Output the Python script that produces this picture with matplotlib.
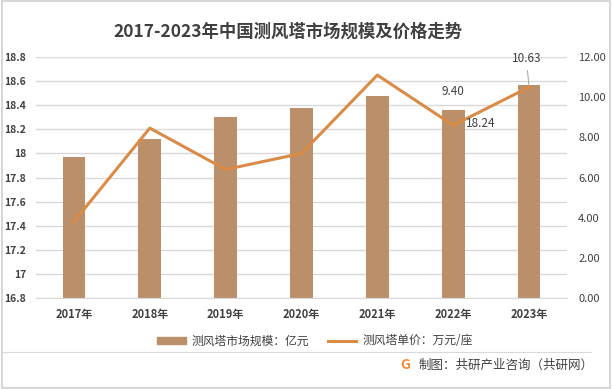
import matplotlib.pyplot as plt
from matplotlib.patches import Rectangle, Patch
from matplotlib.lines import Line2D

plt.rcParams['font.family'] = ['Noto Sans CJK SC', 'DejaVu Sans']

years = ['2017年', '2018年', '2019年', '2020年', '2021年', '2022年', '2023年']
market = [17.97, 18.12, 18.30, 18.38, 18.48, 18.36, 18.57]   # 亿元
price = [3.8, 8.46, 6.4, 7.2, 11.1, 8.6, 10.5]              # 万元/座
left_ticks = [16.8, 17, 17.2, 17.4, 17.6, 17.8, 18, 18.2, 18.4, 18.6, 18.8]
left_labels = ['16.8', '17', '17.2', '17.4', '17.6', '17.8', '18', '18.2', '18.4', '18.6', '18.8']
right_ticks = [0, 2, 4, 6, 8, 10, 12]

bar_color = '#BC8F6B'
line_color = '#D98B48'
text_color = '#404040'

fig = plt.figure(figsize=(6.12, 3.89), dpi=100)
fig.patches.append(Rectangle((0.003, 0.003), 0.994, 0.994, transform=fig.transFigure,
                             fill=False, edgecolor='#D0D0D0', linewidth=1.2))

ax = fig.add_axes([36 / 612, 91 / 389, 531 / 612, 241 / 389])
x = list(range(len(years)))
ax.bar(x, [m - 16.8 for m in market], bottom=16.8, width=0.3, color=bar_color, zorder=2)
ax.set_ylim(16.8, 18.8)
ax.set_xlim(-0.5, len(years) - 0.5)
ax.set_yticks(left_ticks)
ax.set_yticklabels(left_labels, fontsize=7.5, fontweight='bold', color=text_color)
ax.set_xticks(x)
ax.set_xticklabels(years, fontsize=8, fontweight='bold', color=text_color)
ax.tick_params(axis='x', length=0, pad=7)
ax.tick_params(axis='y', length=0, pad=7)
ax.grid(axis='y', color='#D9D9D9', linewidth=1, zorder=0)
for s in ax.spines.values():
    s.set_visible(False)
ax.spines['bottom'].set_visible(True)
ax.spines['bottom'].set_color('#D9D9D9')

ax2 = ax.twinx()
ax2.plot(x, price, color=line_color, linewidth=2.2, zorder=3)
ax2.set_ylim(0, 12)
ax2.set_yticks(right_ticks)
ax2.set_yticklabels(['%.2f' % t for t in right_ticks], fontsize=8, color=text_color)
ax2.tick_params(axis='y', length=0, pad=8)
for s in ax2.spines.values():
    s.set_visible(False)

# data labels as shown in the source
ax.annotate('9.40', (5, market[5]), xytext=(0, 9), textcoords='offset points',
            ha='center', va='bottom', fontsize=8.5, color=text_color)
ax2.annotate('18.24', (5, price[5]), xytext=(20, 1), textcoords='offset points',
             ha='center', va='center', fontsize=8.5, color=text_color)
ax2.annotate('10.63', (6, price[6]), xytext=(-2, 16), textcoords='offset points',
             ha='center', va='bottom', fontsize=8.5, color=text_color,
             arrowprops=dict(arrowstyle='-', color='#A0A0A0', linewidth=0.7))

fig.text(288 / 612, 1 - 32 / 389, '2017-2023年中国测风塔市场规模及价格走势', ha='center', va='center',
         fontsize=12.5, fontweight='bold', color=text_color)

handles = [Patch(color=bar_color), Line2D([0], [0], color=line_color, linewidth=2.2)]
fig.legend(handles, ['测风塔市场规模：亿元', '测风塔单价：万元/座'], loc='center',
           bbox_to_anchor=(315 / 612, 1 - 341 / 389), ncol=2, frameon=False,
           fontsize=8.5, handlelength=2.4, handleheight=0.5, columnspacing=1.6,
           handletextpad=0.5, labelcolor=text_color)

fig.add_artist(Line2D([0.003, 0.965], [1 - 352 / 389, 1 - 352 / 389], transform=fig.transFigure,
                      color='#D9D9D9', linewidth=0.8))
fig.text(405 / 612, 1 - 365 / 389, 'G', ha='center', va='center', fontsize=10,
         fontweight='bold', color='#F08A3C')
fig.text(419 / 612, 1 - 365 / 389, '制图：共研产业咨询（共研网）', ha='left', va='center',
         fontsize=9, color=text_color)

fig.savefig('out.png', dpi=100)
